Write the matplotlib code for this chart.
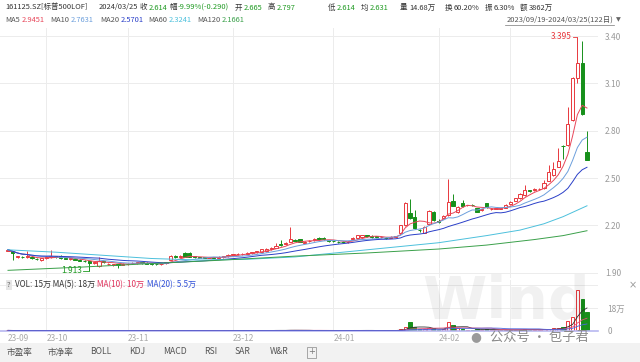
import matplotlib
matplotlib.use('Agg')
import matplotlib.pyplot as plt
import numpy as np
import pandas as pd
from matplotlib.patches import Rectangle

plt.rcParams['font.family'] = ['Noto Sans CJK SC', 'DejaVu Sans']

W, H = 640, 362

# ---------------- data ----------------
opens = [2.040, 2.035, 2.000, 2.000, 1.998, 2.000, 1.988, 1.978, 1.992, 1.998,
         2.003, 2.008, 1.990, 1.985, 1.985, 1.983, 1.976, 1.972, 1.962, 1.940,
         1.972, 1.952, 1.950, 1.955, 1.950, 1.955, 1.960, 1.963, 1.965, 1.962,
         1.958, 1.958, 1.955, 1.960, 1.982, 2.005, 2.000, 2.027, 2.027, 2.002,
         1.998, 1.996, 1.994, 1.996, 1.996, 2.000, 2.006, 2.012, 2.016, 2.018,
         2.020, 2.024, 2.030, 2.033, 2.036, 2.050, 2.058, 2.080, 2.082, 2.096,
         2.108, 2.111, 2.090, 2.098, 2.108, 2.120, 2.120, 2.108, 2.100, 2.096,
         2.094, 2.094, 2.112, 2.120, 2.125, 2.136, 2.134, 2.132, 2.125, 2.120,
         2.122, 2.128, 2.150, 2.202, 2.277, 2.250, 2.172, 2.153, 2.209, 2.287,
         2.224, 2.245, 2.266, 2.354, 2.287, 2.340, 2.326, 2.330, 2.308, 2.298,
         2.340, 2.302, 2.306, 2.306, 2.312, 2.336, 2.357, 2.372, 2.392, 2.422,
         2.425, 2.428, 2.435, 2.483, 2.519, 2.572, 2.704, 2.710, 2.868, 3.132,
         3.227, 2.665]
highs = [2.050, 2.040, 2.008, 2.005, 2.040, 2.005, 1.992, 1.995, 2.005, 2.044,
         2.008, 2.010, 1.993, 1.993, 1.988, 1.985, 1.980, 1.975, 1.970, 2.000,
         1.975, 1.962, 1.958, 1.958, 1.960, 1.962, 1.966, 1.970, 1.968, 1.965,
         1.962, 1.960, 1.962, 1.970, 2.012, 2.010, 2.010, 2.030, 2.030, 2.006,
         2.002, 2.000, 2.000, 1.998, 2.004, 2.008, 2.016, 2.020, 2.022, 2.025,
         2.030, 2.034, 2.040, 2.052, 2.054, 2.060, 2.090, 2.107, 2.094, 2.190,
         2.112, 2.114, 2.100, 2.108, 2.118, 2.124, 2.124, 2.110, 2.104, 2.100,
         2.098, 2.100, 2.124, 2.140, 2.142, 2.140, 2.136, 2.134, 2.130, 2.124,
         2.132, 2.134, 2.205, 2.345, 2.370, 2.297, 2.178, 2.195, 2.298, 2.292,
         2.240, 2.264, 2.492, 2.400, 2.325, 2.360, 2.332, 2.334, 2.312, 2.306,
         2.344, 2.308, 2.312, 2.312, 2.334, 2.356, 2.376, 2.404, 2.456, 2.426,
         2.434, 2.436, 2.490, 2.580, 2.600, 2.690, 2.708, 2.950, 3.140, 3.395,
         3.370, 2.797]
lows = [2.035, 1.980, 1.995, 1.992, 1.995, 1.985, 1.980, 1.975, 1.988, 1.995,
        1.996, 1.988, 1.984, 1.982, 1.980, 1.972, 1.968, 1.913, 1.955, 1.938,
        1.960, 1.948, 1.945, 1.930, 1.946, 1.950, 1.955, 1.958, 1.956, 1.952,
        1.950, 1.948, 1.950, 1.956, 1.978, 1.996, 1.996, 1.998, 1.998, 1.995,
        1.990, 1.990, 1.990, 1.990, 1.992, 1.996, 2.002, 2.008, 2.010, 2.014,
        2.016, 2.020, 2.026, 2.030, 2.032, 2.046, 2.055, 2.072, 2.078, 2.092,
        2.098, 2.092, 2.086, 2.094, 2.104, 2.108, 2.106, 2.096, 2.092, 2.090,
        2.088, 2.090, 2.108, 2.116, 2.120, 2.126, 2.122, 2.120, 2.120, 2.114,
        2.118, 2.124, 2.148, 2.198, 2.240, 2.175, 2.160, 2.150, 2.205, 2.228,
        2.215, 2.240, 2.262, 2.320, 2.280, 2.318, 2.320, 2.324, 2.282, 2.294,
        2.310, 2.298, 2.302, 2.302, 2.308, 2.332, 2.352, 2.368, 2.388, 2.412,
        2.420, 2.424, 2.430, 2.478, 2.515, 2.568, 2.620, 2.700, 2.860, 3.100,
        2.898, 2.614]
closes = [2.046, 2.025, 2.003, 1.997, 2.005, 1.990, 1.985, 1.990, 2.000, 2.008,
          2.000, 1.992, 1.988, 1.990, 1.983, 1.976, 1.972, 1.962, 1.965, 1.975,
          1.965, 1.958, 1.955, 1.948, 1.955, 1.958, 1.963, 1.965, 1.962, 1.958,
          1.956, 1.952, 1.958, 1.965, 2.008, 2.002, 2.004, 2.002, 2.002, 2.000,
          1.996, 1.995, 1.996, 1.994, 2.000, 2.004, 2.012, 2.016, 2.018, 2.020,
          2.026, 2.030, 2.036, 2.048, 2.050, 2.055, 2.068, 2.076, 2.088, 2.111,
          2.104, 2.096, 2.096, 2.104, 2.114, 2.112, 2.112, 2.102, 2.098, 2.094,
          2.092, 2.096, 2.120, 2.136, 2.138, 2.130, 2.127, 2.126, 2.125, 2.118,
          2.128, 2.130, 2.202, 2.340, 2.245, 2.181, 2.170, 2.190, 2.293, 2.234,
          2.223, 2.260, 2.346, 2.325, 2.315, 2.323, 2.328, 2.329, 2.287, 2.302,
          2.315, 2.304, 2.308, 2.308, 2.330, 2.350, 2.372, 2.400, 2.424, 2.418,
          2.430, 2.432, 2.467, 2.540, 2.555, 2.610, 2.700, 2.840, 3.132, 3.227,
          2.904, 2.614]
volumes = [0.5, 0.4, 0.3, 0.3, 0.4, 0.3, 0.3, 0.4, 0.3, 0.5,
           0.3, 0.3, 0.2, 0.3, 0.3, 0.3, 0.3, 0.4, 0.3, 0.5,
           0.3, 0.3, 0.3, 0.3, 0.2, 0.3, 0.3, 0.2, 0.2, 0.3,
           0.2, 0.3, 0.3, 0.3, 0.6, 0.4, 0.3, 0.5, 0.4, 0.3,
           0.3, 0.2, 0.3, 0.2, 0.3, 0.3, 0.4, 0.3, 0.3, 0.3,
           0.4, 0.3, 0.4, 0.5, 0.5, 0.4, 0.6, 0.5, 0.5, 0.9,
           0.5, 0.5, 0.4, 0.4, 0.4, 0.5, 0.4, 0.3, 0.3, 0.3,
           0.3, 0.4, 0.5, 0.6, 0.5, 0.4, 0.4, 0.3, 0.3, 0.4,
           0.5, 0.4, 1.5, 3.0, 7.0, 3.0, 1.2, 1.5, 2.0, 2.0,
           1.0, 1.2, 7.0, 4.5, 2.5, 1.5, 1.0, 1.0, 1.5, 1.0,
           1.5, 1.0, 0.8, 0.8, 0.9, 1.0, 1.0, 1.1, 1.5, 1.0,
           0.9, 1.0, 1.2, 1.5, 2.0, 2.3, 3.0, 7.5, 11.0, 32.0,
           25.0, 14.68]

ma60_idx = [0, 10, 20, 30, 40, 50, 60, 70, 80, 90, 100, 107, 112, 116, 121]
ma60_val = [2.045, 2.030, 2.010, 1.990, 1.980, 1.985, 2.000, 2.030, 2.060,
            2.090, 2.135, 2.170, 2.210, 2.255, 2.324]
ma120_idx = [0, 15, 30, 45, 60, 75, 90, 100, 110, 116, 121]
ma120_val = [1.915, 1.935, 1.958, 1.980, 2.005, 2.025, 2.050, 2.075, 2.110,
             2.135, 2.166]

month_idx = [0, 8, 25, 47, 68, 90]
month_labels = ['23-09', '23-10', '23-11', '23-12', '24-01', '24-02']
grid_idx = [8, 25, 47, 68, 90, 105]
price_ticks = [1.90, 2.20, 2.50, 2.80, 3.10, 3.40]
toolbar = ['市盈率', '市净率', 'BOLL', 'KDJ', 'MACD', 'RSI', 'SAR', 'W&R']

# ---------------- style ----------------
RED = '#e8383d'
GREEN = '#17901b'
GRID = '#ececec'
TXT = '#333333'
VALG = '#1f9a22'
C_MA5 = '#e8475a'
C_MA10 = '#6c9fdc'
C_MA20 = '#2a3fc8'
C_MA60 = '#4cc0dc'
C_MA120 = '#3aa04a'

o = np.array(opens); h = np.array(highs); l = np.array(lows); c = np.array(closes)
v = np.array(volumes)
n = len(c)
x = np.arange(n)
up = c >= o
cols = np.where(up, RED, GREEN)
face = np.where(up, 'white', GREEN)

PX = 4.785
x0 = -8 / PX
x1 = (598 - 8) / PX

fig = plt.figure(figsize=(6.4, 3.62), dpi=100)
fig.patch.set_facecolor('white')
renderer = fig.canvas.get_renderer()

def fx(px):
    return px / W

def fy(py):
    return 1 - py / H

ax = fig.add_axes([0, fy(278), 598 / W, 250 / H])
axv = fig.add_axes([0, fy(331), 598 / W, 51 / H])

p_top = 3.40 + (36 - 28) / 157.8
p_bot = 3.40 - (278 - 36) / 157.8
ax.set_ylim(p_bot, p_top)
ax.set_xlim(x0, x1)
axv.set_xlim(x0, x1)
axv.set_ylim(0, 18 * 51 / 23)

for a in (ax, axv):
    for s in a.spines.values():
        s.set_visible(False)
    for gi in grid_idx:
        a.axvline(gi, color=GRID, lw=0.7, zorder=0)

axv.spines['bottom'].set_visible(True)
axv.spines['bottom'].set_color('#b8b8f0')
axv.spines['bottom'].set_linewidth(1.2)

for t in price_ticks:
    ax.axhline(t, color=GRID, lw=0.7, zorder=0)
for t in (18, 36):
    axv.axhline(t, color=GRID, lw=0.7, zorder=0)

ax.yaxis.tick_right()
ax.set_yticks(price_ticks)
ax.set_yticklabels(['%.2f' % t for t in price_ticks])
ax.tick_params(axis='y', length=0, pad=5, labelsize=6, labelcolor='#9a9a9a')
ax.set_xticks([])

axv.yaxis.tick_right()
axv.set_yticks([0, 18])
axv.set_yticklabels(['0', '18万'])
axv.tick_params(axis='y', length=0, pad=7, labelsize=6, labelcolor='#9a9a9a')
axv.set_xticks(month_idx)
axv.set_xticklabels(month_labels)
axv.tick_params(axis='x', length=0, pad=2, labelsize=6, labelcolor='#aaaaaa')
for lab in axv.get_xticklabels():
    lab.set_ha('left')

# watermark (behind marks)
fig.text(fx(506), fy(303), 'Wind', color='#000000', alpha=0.055, fontsize=42,
         fontweight='bold', ha='center', va='center', family=['DejaVu Sans'], zorder=0)

# candles
bb = np.minimum(o, c)
bt = np.maximum(o, c)
bh = np.maximum(bt - bb, 0.003)
ax.vlines(x, l, bb, colors=cols, lw=0.7, zorder=2)
ax.vlines(x, bt, h, colors=cols, lw=0.7, zorder=2)
ax.bar(x, bh, bottom=bb, width=0.68, color=face, edgecolor=cols, linewidth=0.7, zorder=2)

# moving averages
cs = pd.Series(c)
ax.plot(x, cs.rolling(5, min_periods=1).mean(), color=C_MA5, lw=0.7, zorder=3)
ax.plot(x, cs.rolling(10, min_periods=1).mean(), color=C_MA10, lw=0.7, zorder=3)
ax.plot(x, cs.rolling(20, min_periods=1).mean(), color=C_MA20, lw=0.7, zorder=3)
ax.plot(ma60_idx, ma60_val, color=C_MA60, lw=0.7, zorder=3)
ax.plot(ma120_idx, ma120_val, color=C_MA120, lw=0.7, zorder=3)

# high / low annotation
ih = int(np.argmax(h)); il = int(np.argmin(l))
ax.plot([ih - 1.0, ih], [h[ih], h[ih]], color=RED, lw=0.6, zorder=3)
ax.text(ih - 1.1, h[ih], '%.3f' % h[ih], color=RED, fontsize=6, ha='right', va='center')
ax.plot([il - 1.4, il], [l[il], l[il]], color=VALG, lw=0.6, zorder=3)
ax.text(il - 1.5, l[il], '%.3f' % l[il], color=VALG, fontsize=6, ha='right', va='center')

# volume
axv.bar(x, v, width=0.68, color=face, edgecolor=cols, linewidth=0.7, zorder=2)
vs = pd.Series(v)
axv.plot(x, vs.rolling(5, min_periods=1).mean(), color='#333333', lw=0.6, zorder=3)
axv.plot(x, vs.rolling(10, min_periods=1).mean(), color='#e0507a', lw=0.6, zorder=3)
axv.plot(x, vs.rolling(20, min_periods=1).mean(), color='#4a66e0', lw=0.6, zorder=3)

# ---------------- header texts ----------------
FS = 5.4

def line(py, pieces, fs=FS):
    """pieces: list of (ref_x, text, color); keeps reference x, pushes right on overlap."""
    end = -1e9
    for px, s, col in pieces:
        px = max(px, end + 1.5)
        t = fig.text(fx(px), fy(py), s, color=col, fontsize=fs, va='center', ha='left')
        bb_ = t.get_window_extent(renderer=renderer)
        end = bb_.x1

line(7.5, [(5, '161125.SZ[标普500LOF]', TXT), (99, '2024/03/25', TXT),
           (137, '收', TXT), (144, '2.614', VALG),
           (168, '幅', TXT), (175, '-9.99%(-0.290)', VALG),
           (235, '开', TXT), (242, '2.665', VALG),
           (268, '高', TXT), (275, '2.797', VALG),
           (328, '低', TXT), (335, '2.614', VALG),
           (361, '均', TXT), (368, '2.631', VALG),
           (400, '量', TXT), (407, '14.68万', TXT),
           (445, '换', TXT), (452, '60.20%', TXT),
           (485, '振', TXT), (492, '6.30%', TXT),
           (520, '额', TXT), (527, '3862万', TXT)])

line(20.5, [(5, 'MA5', '#555555'), (19, '2.9451', C_MA5),
            (50, 'MA10', '#555555'), (68, '2.7631', C_MA10),
            (100, 'MA20', '#555555'), (117, '2.5701', C_MA20),
            (148, 'MA60', '#555555'), (166, '2.3241', C_MA60),
            (197, 'MA120', '#555555'), (217, '2.1661', C_MA120)])

fig.text(fx(614), fy(19.5), '2023/09/19-2024/03/25(122日)', color='#555555',
         fontsize=FS, ha='right', va='center')
fig.add_artist(plt.Line2D([fx(505), fx(614)], [fy(24.5), fy(24.5)], color='#777777', lw=0.5))
fig.text(fx(616), fy(19.5), '▼', color='#666666', fontsize=4.5, ha='left', va='center',
         family=['DejaVu Sans'])

# volume header
fig.text(fx(9), fy(285), '?', color='#666666', fontsize=5.5, ha='center', va='center',
         bbox=dict(boxstyle='square,pad=0.15', fc='#e6e6e6', ec='none'))
line(285, [(15, 'VOL: 15万 MA(5): 18万', TXT), (97, 'MA(10): 10万', '#e0305a'),
           (147, 'MA(20): 5.5万', '#3050d8')], fs=5.8)
fig.text(fx(629), fy(285), '×', color='#999999', fontsize=7, ha='left', va='center',
         family=['DejaVu Sans'])

# bottom toolbar
fig.add_artist(Rectangle((0, 0), 1, fy(343), transform=fig.transFigure,
                         facecolor='#f2f2f2', edgecolor='none', zorder=0))
tb_x = [20, 61, 101, 137, 175, 211, 242, 279]
for tx, ts in zip(tb_x, toolbar):
    fig.text(fx(tx), fy(352), ts, color='#555555', fontsize=6.2, ha='center', va='center')
fig.text(fx(311.5), fy(352), '+', color='#777777', fontsize=6, ha='center', va='center',
         family=['DejaVu Sans'],
         bbox=dict(boxstyle='square,pad=0.12', fc='none', ec='#888888', lw=0.5))

# wechat watermark
fig.text(fx(476), fy(337), '●', color='#9a9a9a', fontsize=9, ha='center', va='center',
         family=['DejaVu Sans'])
fig.text(fx(490), fy(337), '公众号 · 包子君', color='#8a8a8a', fontsize=9.5,
         ha='left', va='center')

fig.savefig('out.png', dpi=100)
